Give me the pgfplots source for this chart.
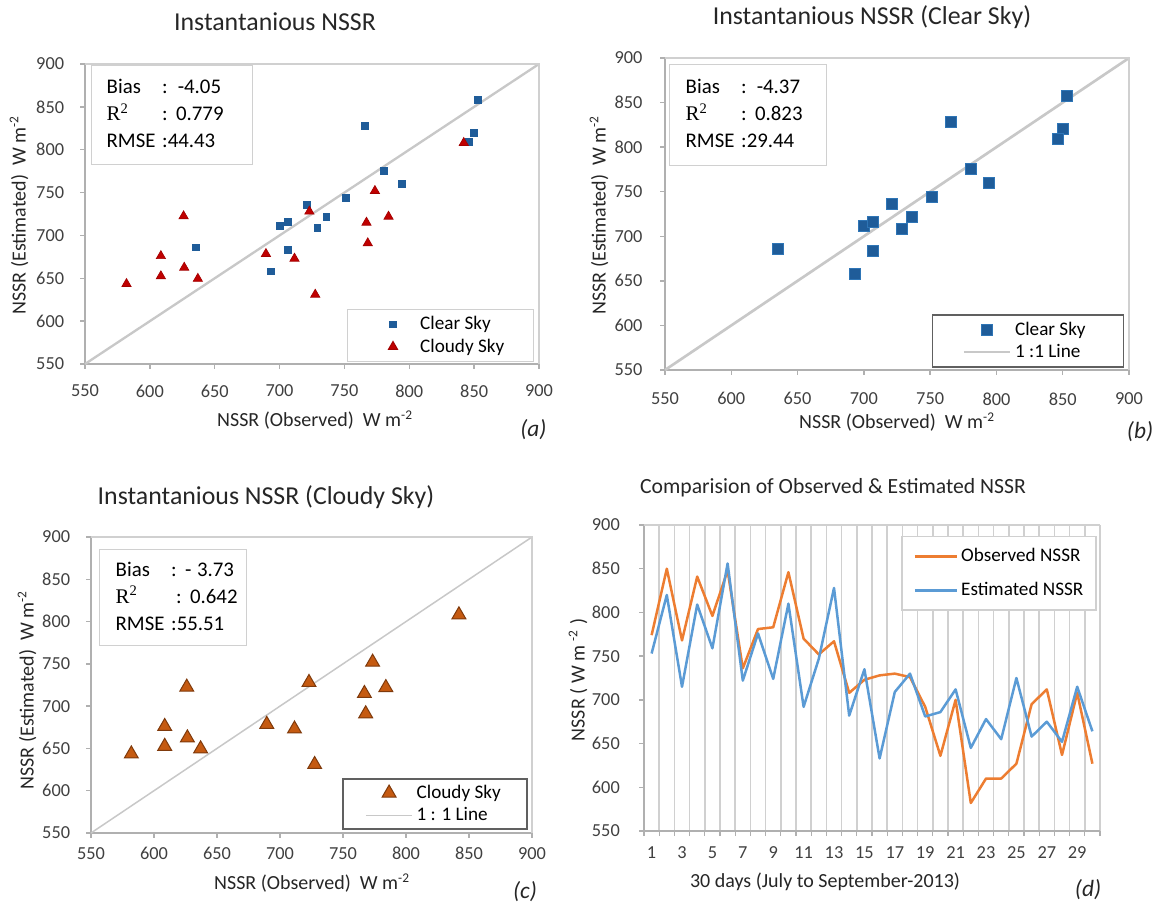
\documentclass[border=0pt]{standalone}
\usepackage{fontspec}
\setmainfont{Carlito}
\newfontfamily\seriffont{Liberation Serif}
\usepackage{pgfplots}
\usepackage{pgfplotstable}
\pgfplotsset{compat=1.18}

\definecolor{clearblue}{HTML}{1F5C99}
\definecolor{clearedge}{HTML}{2E75B6}
\definecolor{cloudyred}{HTML}{C00000}
\definecolor{cloudybrown}{HTML}{C55A11}
\definecolor{brownedge}{HTML}{7F3A0C}
\definecolor{oneline}{HTML}{C8C8C8}
\definecolor{obsorange}{HTML}{ED7D31}
\definecolor{estblue}{HTML}{5B9BD5}
\definecolor{axisgray}{HTML}{B0B0B0}
\definecolor{txtgray}{HTML}{404040}
\definecolor{boxgray}{HTML}{D0D0D0}
\definecolor{darkbox}{HTML}{606060}

% observed / estimated, clear sky
\pgfplotstableread{
obs est
853 858
765.5 828
850 820
846 809
780.5 775.5
794.5 760
751 744
721 736
736 721.5
700 711.5
706.5 716
729 708.5
635.5 686
706.5 683.5
693.5 658
}\clearsky

% observed / estimated, cloudy sky
\pgfplotstableread{
obs est
842 808
773.5 752
723 728
784 722
626 722.5
767 715
768 691
608.5 676
689.5 678.5
711.5 673
626.5 662.5
608.5 652.5
637 649.5
582 643.5
727.5 631
}\cloudysky

% daily series
\pgfplotstableread{
day obs est
1 774 753
2 850 820
3 768 715
4 841 809
5 796 759
6 848 856
7 736 722
8 781 776
9 783 724
10 846 810
11 770 692
12 752 747
13 767 828
14 708 682
15 723 735
16 728 633
17 730 709
18 726 730
19 692 681
20 636 686
21 700 712
22 582 645
23 610 678
24 610 655
25 627 725
26 695 658
27 712 675
28 637 652
29 708 715
30 627 664
}\daily

\pgfplotsset{
  scatterax/.style={
    scale only axis,
    xmin=550, xmax=900, ymin=550, ymax=900,
    xtick={550,600,...,900}, ytick={550,600,...,900},
    axis lines=left, axis line style={axisgray, line width=1pt, -},
    tick align=outside, major tick length=3pt,
    tick style={axisgray, line width=0.8pt},
    ticklabel style={font=\fontsize{11}{13}\selectfont, text=txtgray},
    /pgf/number format/assume math mode=true,
    legend cell align=left,
    clip=false,
  },
  wideleg/.style={legend image code/.code={%
    \path (0pt,0pt) (28pt,0pt);
    \draw[mark repeat=2,mark phase=2,##1] plot coordinates {(0pt,0pt)(14pt,0pt)(28pt,0pt)};}},
}

\newcommand{\stats}[3]{%
  \fontsize{12.5}{16.2}\selectfont
  \begin{tabular}{@{}l@{\hspace{4pt}}l@{}}
  Bias & #1\\
  {\seriffont R\textsuperscript{2}} & #2\\
  RMSE & #3
  \end{tabular}}

\begin{document}
\begin{tikzpicture}

% ---------------- (a)
\begin{axis}[scatterax, at={(51pt,-38.4pt)}, anchor=north west,
  width=272.4pt, height=180pt,
  xticklabel style={yshift=-6pt}, yticklabel style={xshift=-6pt},
  legend style={at={(0.989,0.007)}, anchor=south east, draw=boxgray,
    line width=0.6pt, font=\fontsize{11.5}{14}\selectfont,
    inner xsep=13pt, inner ysep=2pt, row sep=0pt}]
\addplot[oneline, line width=1.4pt, forget plot] coordinates {(550,550) (900,900)};
\addplot[only marks, mark=square*, mark size=2pt, color=clearblue, wideleg]
  table[x=obs, y=est] {\clearsky};
\addlegendentry{\makebox[53pt][l]{Clear Sky}}
\addplot[only marks, mark=triangle*, mark size=3.2pt, color=cloudyred,
  mark options={draw=cloudyred!85!black}, wideleg]
  table[x=obs, y=est] {\cloudysky};
\addlegendentry{\makebox[53pt][l]{Cloudy Sky}}
\draw[boxgray, line width=0.8pt] (rel axis cs:0,1) -- (rel axis cs:1,1) -- (rel axis cs:1,0);
\end{axis}

% ---------------- (b)
\begin{axis}[scatterax, at={(399pt,-34.8pt)}, anchor=north west,
  width=278.4pt, height=187.2pt,
  xticklabel style={yshift=-7pt}, yticklabel style={xshift=-7pt},
  reverse legend,
  legend style={at={(0.99,0.008)}, anchor=south east, draw=darkbox,
    line width=1.1pt, font=\fontsize{11.5}{14}\selectfont,
    inner xsep=18pt, inner ysep=2pt, row sep=0pt}]
\addplot[oneline, line width=1.6pt, wideleg] coordinates {(550,550) (900,900)};
\addlegendentry{\makebox[45pt][l]{1 :1 Line}}
\addplot[only marks, mark=square*, mark size=3.3pt,
  mark options={fill=clearblue, draw=clearedge, line width=0.5pt}, wideleg]
  table[x=obs, y=est] {\clearsky};
\addlegendentry{\makebox[45pt][l]{Clear Sky}}
\draw[boxgray, line width=0.8pt] (rel axis cs:0,1) -- (rel axis cs:1,1) -- (rel axis cs:1,0);
\end{axis}

% ---------------- (c)
\begin{axis}[scatterax, at={(54.6pt,-322.2pt)}, anchor=north west,
  width=264.6pt, height=177.6pt,
  xticklabel style={yshift=-2pt}, yticklabel style={xshift=-6pt},
  reverse legend,
  legend style={at={(0.99,0.01)}, anchor=south east, draw=darkbox,
    line width=1.1pt, font=\fontsize{11.5}{14}\selectfont,
    inner xsep=13pt, inner ysep=1.5pt, row sep=0pt}]
\addplot[oneline, line width=0.9pt, wideleg] coordinates {(550,550) (900,900)};
\addlegendentry{\makebox[51pt][l]{1 : 1 Line}}
\addplot[only marks, mark=triangle*, mark size=4.8pt,
  mark options={fill=cloudybrown, draw=brownedge, line width=0.6pt}, wideleg]
  table[x=obs, y=est] {\cloudysky};
\addlegendentry{\makebox[51pt][l]{Cloudy Sky}}
\draw[boxgray, line width=0.8pt] (rel axis cs:0,1) -- (rel axis cs:1,1) -- (rel axis cs:1,0);
\end{axis}

% ---------------- (d)
\begin{axis}[scale only axis, at={(386.4pt,-315pt)}, anchor=north west,
  width=273.6pt, height=183.6pt,
  xmin=0.5, xmax=30.5, ymin=550, ymax=900,
  ytick={550,600,...,900},
  xtick={0.5,1.5,...,30.5}, xticklabels={},
  xmajorgrids, grid style={boxgray, line width=1pt},
  extra x ticks={1,3,...,29},
  extra x tick style={grid=none, tick style={draw=none}},
  axis lines=left, axis line style={axisgray, line width=1pt, -},
  tick align=outside, major tick length=3pt,
  tick style={axisgray, line width=0.8pt},
  ticklabel style={font=\fontsize{11}{13}\selectfont, text=txtgray},
  xticklabel style={yshift=-3pt}, yticklabel style={xshift=-8pt},
  /pgf/number format/assume math mode=true,
  legend cell align=left,
  legend image code/.code={\draw[#1] (0pt,0pt) -- (25pt,0pt);},
  legend style={at={(0.993,0.964)}, anchor=north east, draw=boxgray,
    line width=0.8pt, font=\fontsize{11.5}{14}\selectfont,
    inner xsep=7pt, inner ysep=5pt, row sep=7pt}]
\addplot[obsorange, line width=1.5pt, line join=round] table[x=day, y=obs] {\daily};
\addlegendentry{\makebox[72pt][l]{Observed NSSR}}
\addplot[estblue, line width=1.5pt, line join=round] table[x=day, y=est] {\daily};
\addlegendentry{\makebox[72pt][l]{Estimated NSSR}}
\draw[boxgray, line width=0.8pt] (rel axis cs:0,1) -- (rel axis cs:1,1);
\end{axis}

% ---------------- titles and labels
\begin{scope}[every node/.style={text=black!85}]
\node[font=\fontsize{15.5}{18}\selectfont] at (165pt,-13.2pt) {Instantanious NSSR};
\node[font=\fontsize{15.5}{18}\selectfont] at (523.2pt,-10.2pt) {Instantanious NSSR (Clear Sky)};
\node[font=\fontsize{15.5}{18}\selectfont] at (159.6pt,-298.2pt) {Instantanious NSSR (Cloudy Sky)};
\node[font=\fontsize{13}{16}\selectfont] at (499.8pt,-292.8pt) {Comparision of Observed \& Estimated NSSR};

\node[font=\fontsize{12}{14}\selectfont] at (189pt,-252pt) {NSSR (Observed)\ \ W m\textsuperscript{-2}};
\node[font=\fontsize{12}{14}\selectfont] at (538.2pt,-253.2pt) {NSSR (Observed)\ \ W m\textsuperscript{-2}};
\node[font=\fontsize{12}{14}\selectfont] at (187.2pt,-529.8pt) {NSSR (Observed)\ \ W m\textsuperscript{-2}};
\node[font=\fontsize{12}{14}\selectfont] at (495pt,-529.2pt) {30 days (July to September-2013)};

\node[font=\fontsize{12}{14}\selectfont, rotate=90] at (11.4pt,-129pt) {NSSR (Estimated)\ \ W m\textsuperscript{-2}};
\node[font=\fontsize{12}{14}\selectfont, rotate=90] at (359.4pt,-129pt) {NSSR (Estimated)\ \ W m\textsuperscript{-2}};
\node[font=\fontsize{12}{14}\selectfont, rotate=90] at (16.2pt,-414pt) {NSSR (Estimated)\ \ W m\textsuperscript{-2}};
\node[font=\fontsize{12}{14}\selectfont, rotate=90] at (346.8pt,-408pt) {NSSR ( W m \textsuperscript{-2} )};

\node[font=\fontsize{14}{16}\selectfont\itshape] at (320pt,-258pt) {(a)};
\node[font=\fontsize{14}{16}\selectfont\itshape] at (684pt,-259pt) {(b)};
\node[font=\fontsize{14}{16}\selectfont\itshape] at (315pt,-535pt) {(c)};
\node[font=\fontsize{14}{16}\selectfont\itshape] at (652.8pt,-534pt) {(d)};
\end{scope}

% ---------------- statistics boxes
\node[draw=boxgray, line width=0.8pt, anchor=north west, inner xsep=9pt, inner ysep=0pt,
  text width=78.6pt, minimum height=59.4pt, align=left] at (54.6pt,-39pt)
  {\stats{:\hspace{6pt}-4.05}{: 0.779}{:44.43}};
\node[draw=boxgray, line width=0.8pt, anchor=north west, inner xsep=9.6pt, inner ysep=0pt,
  text width=75pt, minimum height=60.6pt, align=left] at (401.4pt,-38.4pt)
  {\stats{:\hspace{6pt}-4.37}{: 0.823}{:29.44}};
\node[draw=boxgray, line width=0.8pt, anchor=north west, inner xsep=9.6pt, inner ysep=0pt,
  text width=69pt, minimum height=57.6pt, align=left] at (59.4pt,-329.4pt)
  {\stats{: - 3.73}{\hspace{3pt}: 0.642}{:55.51}};

\pgfresetboundingbox
\path[use as bounding box] (0,0) rectangle (695.4pt,-544.8pt);
\end{tikzpicture}
\end{document}
